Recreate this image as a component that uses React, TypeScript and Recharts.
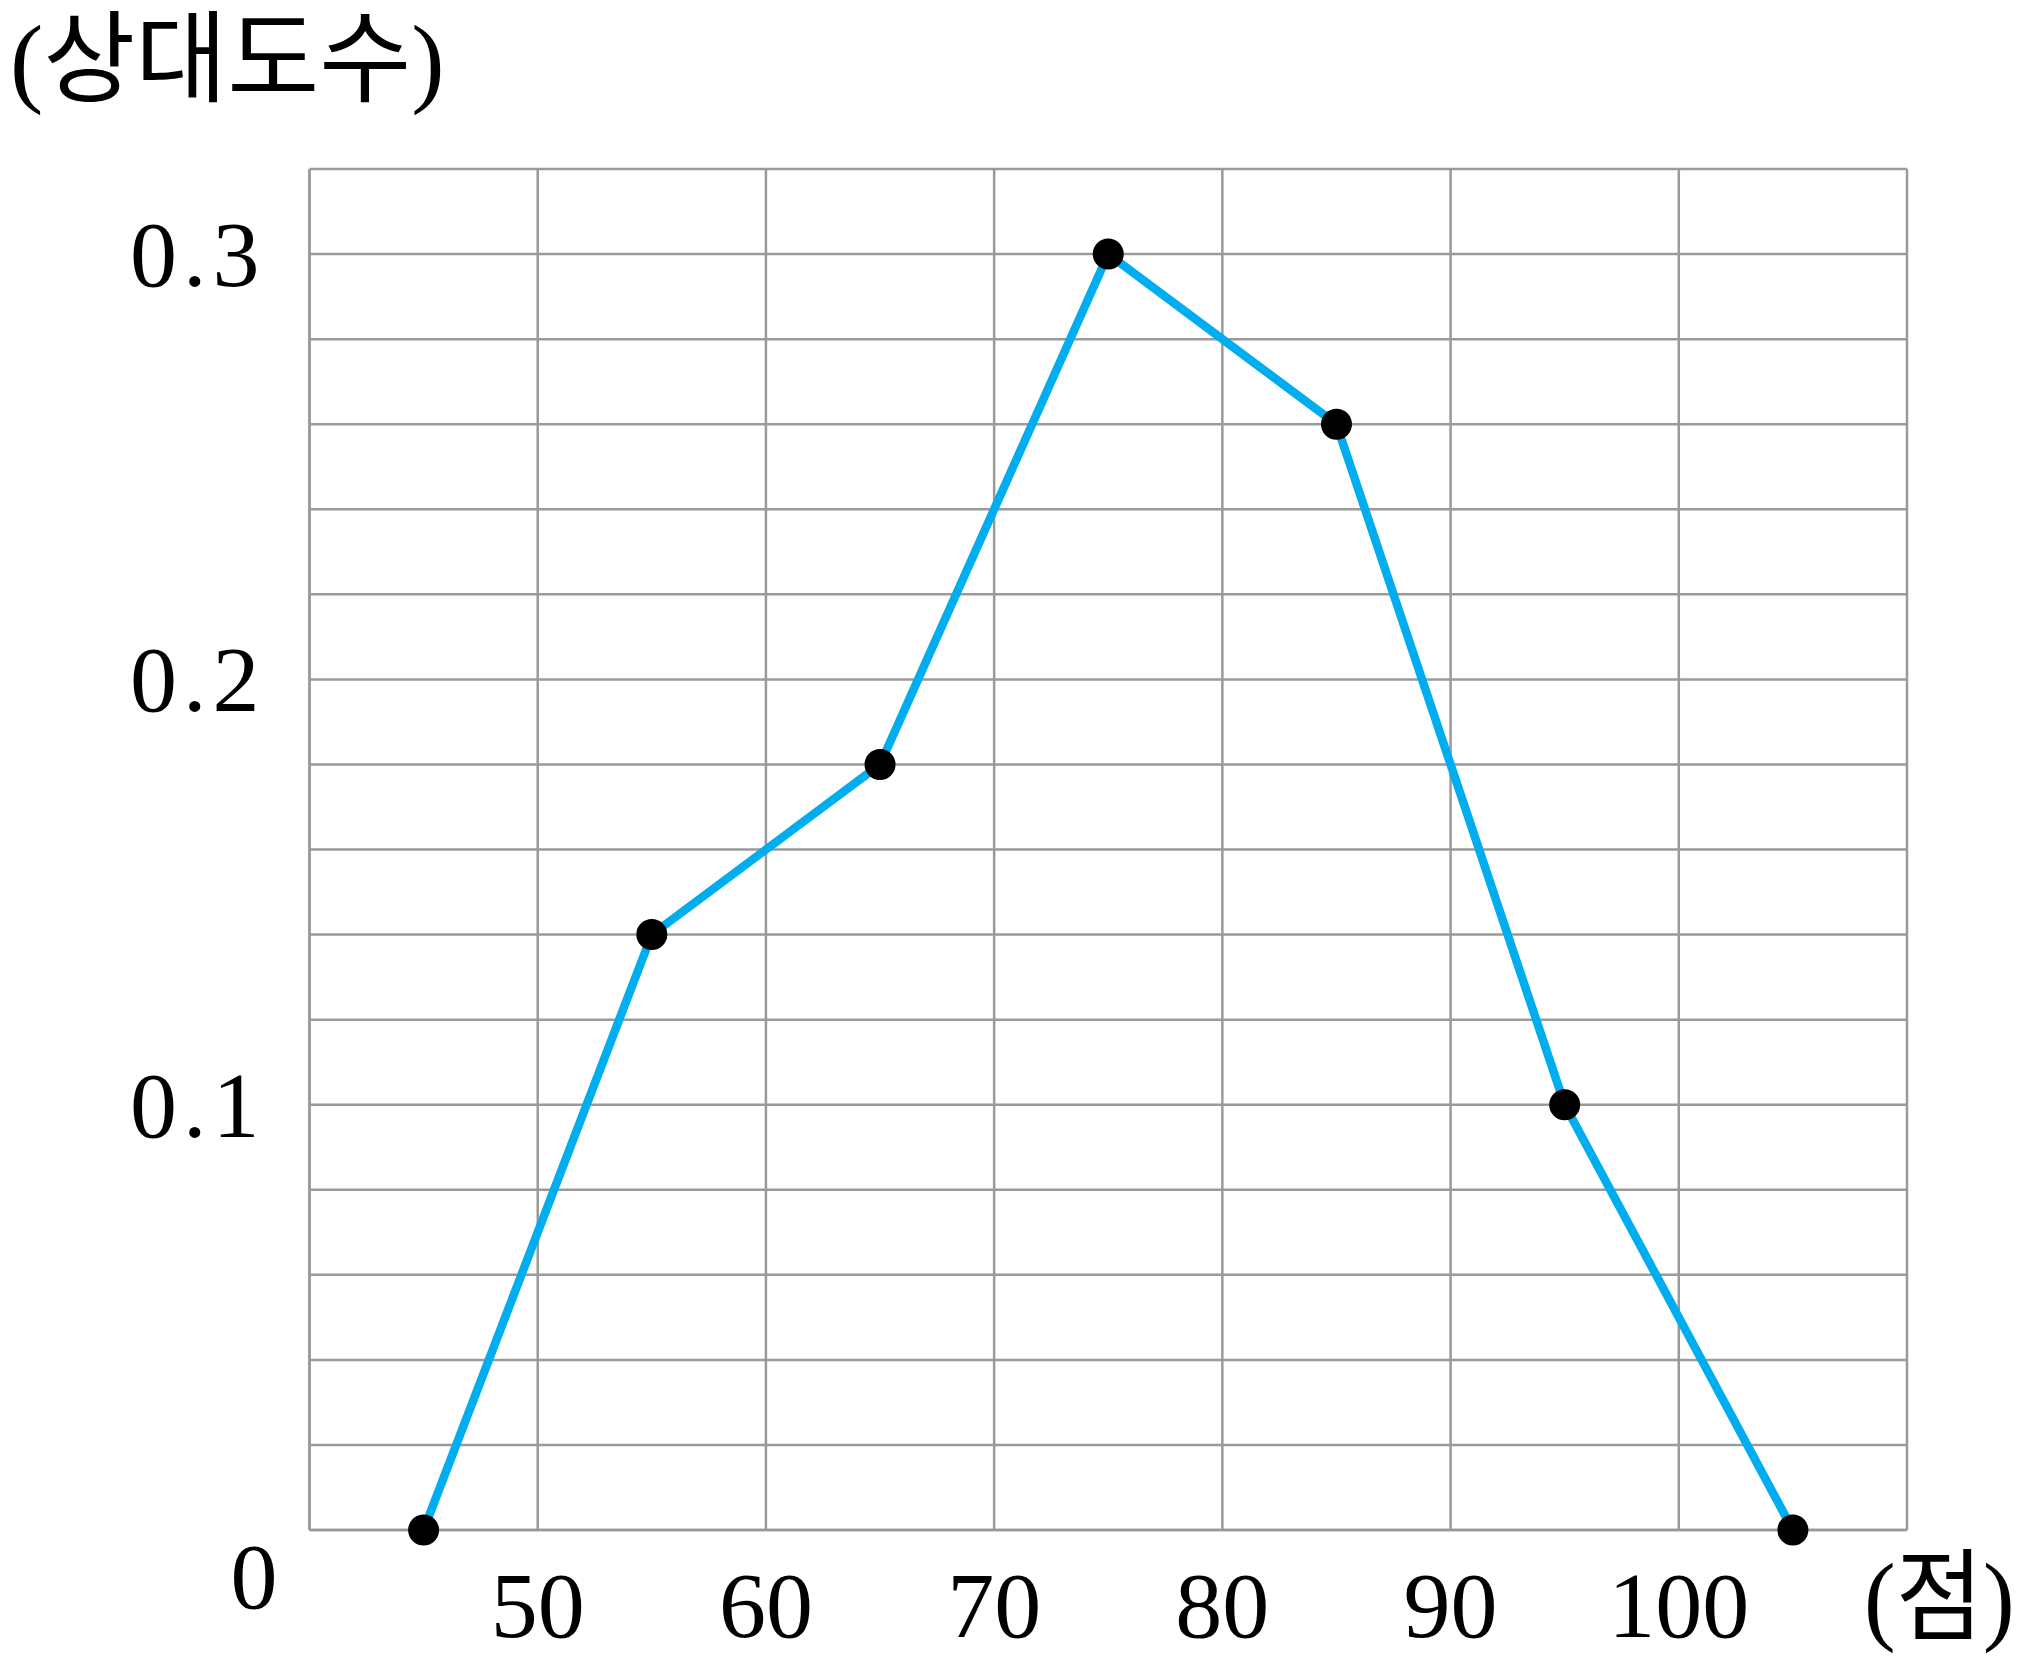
import { CartesianGrid, Line, LineChart, XAxis, YAxis } from "recharts";

// 점수 계급값 (class midpoints) and 상대도수
const SCORES = [45, 55, 65, 75, 85, 95, 105];
const REL_FREQ = [0, 0.14, 0.18, 0.3, 0.26, 0.1, 0];

const X_TICKS = [40, 50, 60, 70, 80, 90, 100, 110];
const X_LABELS = ["", "50", "60", "70", "80", "90", "100", ""];
const Y_TICKS = [0, 0.02, 0.04, 0.06, 0.08, 0.1, 0.12, 0.14, 0.16, 0.18, 0.2, 0.22, 0.24, 0.26, 0.28, 0.3, 0.32];
const Y_LABELS: Record<string, string> = { "0": "0", "0.1": "0.1", "0.2": "0.2", "0.3": "0.3" };

const W = 2021;
const H = 1665;
const SERIF = "'Liberation Serif', 'Noto Sans CJK KR', serif";

const data = SCORES.map((s, i) => ({ score: s, freq: REL_FREQ[i] }));

function XTick({ x, y, index }: any) {
  const label = X_LABELS[index] ?? "";
  if (!label) return null;
  return (
    <text x={x} y={y + 107} textAnchor="middle" fontSize={94} fontFamily={SERIF} fill="#000">
      {label}
    </text>
  );
}

function YTick({ x, y, payload }: any) {
  const label = Y_LABELS[String(payload.value)];
  if (!label) return null;
  if (label === "0") {
    return (
      <text x={x - 32} y={y + 78} textAnchor="end" fontSize={94} fontFamily={SERIF} fill="#000">
        0
      </text>
    );
  }
  return (
    <text x={x - 44} y={y + 32} textAnchor="end" fontSize={94} letterSpacing={6} fontFamily={SERIF} fill="#000">
      {label}
    </text>
  );
}

export default function App() {
  return (
    <div style={{ position: "absolute", left: 0, top: 0, width: W, height: H, background: "#fff" }}>
      <LineChart width={W} height={H} data={data} margin={{ top: 169, right: 114, bottom: 0, left: 0 }}>
        <CartesianGrid stroke="#9a9a9a" strokeWidth={2.5} />
        <XAxis
          dataKey="score"
          type="number"
          domain={[40, 110]}
          ticks={X_TICKS}
          height={135}
          axisLine={{ stroke: "#9a9a9a", strokeWidth: 2.5 }}
          tickLine={false}
          tickSize={0}
          tickMargin={0}
          tick={<XTick />}
          interval={0}
        />
        <YAxis
          type="number"
          domain={[0, 0.32]}
          ticks={Y_TICKS}
          width={309.5}
          axisLine={{ stroke: "#9a9a9a", strokeWidth: 2.5 }}
          tickLine={false}
          tickSize={0}
          tickMargin={0}
          tick={<YTick />}
          interval={0}
        />
        <Line
          dataKey="freq"
          stroke="#00aeef"
          strokeWidth={8.5}
          isAnimationActive={false}
          dot={{ r: 15.5, fill: "#000", stroke: "none", strokeWidth: 0 }}
          activeDot={false}
        />
      </LineChart>
      <svg width={W} height={H} style={{ position: "absolute", left: 0, top: 0, pointerEvents: "none" }}>
        <text x={10} y={94} fontSize={100} fontFamily={SERIF} fill="#000">
          (상대도수)
        </text>
        <text transform="translate(1864,1632) scale(0.95,1)" fontSize={100} fontFamily={SERIF} fill="#000">
          (점)
        </text>
      </svg>
    </div>
  );
}
